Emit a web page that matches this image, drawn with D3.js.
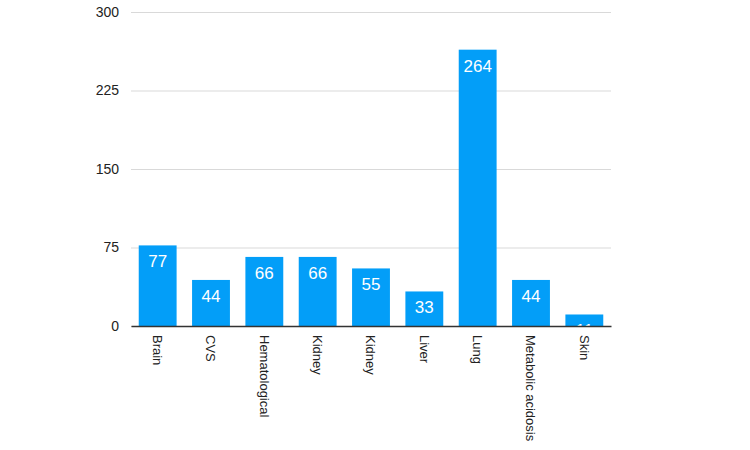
<!DOCTYPE html>
<html>
<head>
<meta charset="utf-8">
<script src="https://cdn.jsdelivr.net/npm/d3@7"></script>
<style>
  body { margin: 0; background: #fff; }
  text { font-family: "Liberation Sans", Arial, sans-serif; }
</style>
</head>
<body>
<svg width="750" height="450"></svg>
<script>
const categories = ['Brain', 'CVS', 'Hematological', 'Kidney', 'Kidney ', 'Liver', 'Lung', 'Metabolic acidosis', 'Skin']
const labels = ['Brain', 'CVS', 'Hematological', 'Kidney', 'Kidney', 'Liver', 'Lung', 'Metabolic acidosis', 'Skin']
const values = [77, 44, 66, 66, 55, 33, 264, 44, 11]
const yTicks = [0, 75, 150, 225, 300]

const svg = d3.select('svg')
const margin = {left: 131, right: 139, top: 12, bottom: 124}
const width = +svg.attr('width')
const height = +svg.attr('height')
const innerWidth = width - margin.left - margin.right
const innerHeight = height - margin.top - margin.bottom

const g = svg.append('g')
  .attr('transform', `translate(${margin.left}, ${margin.top})`)

const xScale = d3.scaleBand()
  .domain(categories)
  .range([0, innerWidth])
  .paddingInner(0.29)
  .paddingOuter(0.145)

const yScale = d3.scaleLinear()
  .domain([0, 300])
  .range([innerHeight, 0])

// gridlines + y labels
const yAxisG = g.append('g')
  .call(d3.axisLeft(yScale).tickValues(yTicks).tickSize(-innerWidth).tickPadding(12))
yAxisG.select('.domain').remove()
yAxisG.selectAll('.tick line').attr('stroke', '#d9d9d9')
yAxisG.selectAll('.tick text')
  .attr('font-size', 14)
  .attr('fill', '#222')

g.selectAll('rect.bar')
  .data(values)
  .enter()
  .append('rect')
  .attr('class', 'bar')
  .attr('x', (d, i) => xScale(categories[i]))
  .attr('y', d => yScale(d))
  .attr('width', xScale.bandwidth())
  .attr('height', d => innerHeight - yScale(d))
  .attr('fill', '#039ef8')

g.selectAll('text.value')
  .data(values)
  .enter()
  .append('text')
  .attr('class', 'value')
  .attr('x', (d, i) => xScale(categories[i]) + xScale.bandwidth() / 2)
  .attr('y', d => yScale(d) + 22)
  .attr('text-anchor', 'middle')
  .attr('font-size', 17)
  .attr('fill', '#fff')
  .text(d => d)

// x axis
const xAxisG = g.append('g')
  .attr('transform', `translate(0, ${innerHeight})`)
  .call(d3.axisBottom(xScale).tickSize(0).tickFormat((d, i) => labels[i]))
xAxisG.select('.domain').attr('stroke', '#333').attr('stroke-width', 1.5)
xAxisG.selectAll('.tick text')
  .attr('font-size', 13)
  .attr('fill', '#222')
  .attr('text-anchor', 'start')
  .attr('transform', 'rotate(90)')
  .attr('x', 9)
  .attr('y', 0)
  .attr('dy', '0.35em')
</script>
</body>
</html>
